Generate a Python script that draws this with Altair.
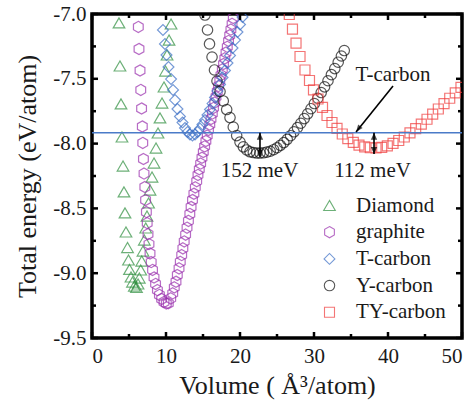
import altair as alt
import pandas as pd

# ---------------- data ----------------
dia_v = [3.65, 3.78, 3.92, 4.05, 4.19, 4.32, 4.46, 4.59, 4.80, 4.93, 5.07, 5.27, 5.47, 5.72, 6.01,
         6.22, 6.39, 6.58, 6.72, 6.89, 7.07, 7.26, 7.43, 7.64, 7.84, 8.11, 8.38, 8.65, 8.92, 9.19,
         9.46, 9.73, 9.93, 10.14, 10.41, 10.68]
dia_e = [-7.069, -7.401, -7.694, -7.949, -8.173, -8.373, -8.535, -8.682, -8.802, -8.898, -8.971,
         -9.029, -9.068, -9.099, -9.110,
         -9.083, -9.037, -8.975, -8.906, -8.829, -8.744, -8.651, -8.559, -8.458, -8.358, -8.258,
         -8.150, -8.034, -7.918, -7.802, -7.687, -7.563, -7.440, -7.316, -7.201, -7.077]

gra_v = [6.26, 6.35, 6.49, 6.59, 6.70, 6.80, 6.86, 6.95, 7.03, 7.14, 7.24, 7.35, 7.46, 7.57, 7.70,
         7.84, 8.00, 8.18, 8.38, 8.59, 8.84, 9.11, 9.41, 9.73, 10.04,
         10.31, 10.64, 10.91, 11.12, 11.35, 11.53, 11.76, 11.93, 12.12, 12.28, 12.46, 12.65, 12.84,
         13.03, 13.22, 13.39, 13.58, 13.77, 13.96, 14.15, 14.32, 14.50, 14.68, 14.86, 15.04, 15.22,
         15.39, 15.57, 15.74, 15.92, 16.08, 16.26, 16.42, 16.59, 16.76, 16.93, 17.09, 17.27, 17.43,
         17.61, 17.77, 17.95, 18.11, 18.28, 18.45, 18.61, 18.77, 18.93, 19.09]
gra_e = [-7.100, -7.270, -7.436, -7.586, -7.729, -7.868, -7.995, -8.119, -8.231, -8.335, -8.435,
         -8.528, -8.613, -8.698, -8.775, -8.848, -8.914, -8.975, -9.033, -9.083, -9.130, -9.168,
         -9.199, -9.222, -9.234,
         -9.232, -9.194, -9.155, -9.109, -9.066, -9.014, -8.963, -8.912, -8.860, -8.808, -8.755,
         -8.702, -8.649, -8.596, -8.543, -8.489, -8.435, -8.387, -8.338, -8.290, -8.242, -8.198,
         -8.154, -8.109, -8.065, -8.022, -7.980, -7.938, -7.895, -7.853, -7.810, -7.768, -7.725,
         -7.683, -7.640, -7.598, -7.556, -7.513, -7.471, -7.428, -7.386, -7.342, -7.297, -7.253,
         -7.208, -7.164, -7.120, -7.076, -7.031]

tc_v = [9.59, 9.86, 10.07, 10.34, 10.68, 10.95, 11.22, 11.55, 11.89, 12.23, 12.57, 12.91, 13.24,
        13.58, 13.92, 14.26, 14.59, 14.93, 15.27, 15.61, 15.95, 16.28, 16.62, 16.96, 17.30, 17.64,
        17.97, 18.31, 18.65, 18.99, 19.32, 19.66, 20.00, 20.34]
tc_e = [-7.123, -7.231, -7.316, -7.409, -7.502, -7.586, -7.664, -7.733, -7.791, -7.837, -7.880,
        -7.910, -7.930, -7.938, -7.930, -7.910, -7.884, -7.853, -7.818, -7.779, -7.737, -7.691,
        -7.644, -7.594, -7.544, -7.490, -7.436, -7.378, -7.320, -7.262, -7.201, -7.139, -7.081,
        -7.023]

yc_v = [15.27, 15.61, 15.88, 16.22, 16.55, 16.89, 17.30, 17.74, 18.20, 18.65, 19.09, 19.55, 20.00,
        20.45, 20.91, 21.35, 21.80, 22.26, 22.70,
        23.16, 23.62, 24.08, 24.54, 25.00, 25.46, 25.92, 26.38, 26.84, 27.30, 27.76, 28.22, 28.68,
        29.14, 29.59, 30.05, 30.51, 30.97, 31.43, 31.89, 32.35, 32.81, 33.27, 33.70, 34.09]
yc_e = [-7.008, -7.123, -7.231, -7.332, -7.432, -7.517, -7.598, -7.671, -7.737, -7.799, -7.872,
        -7.938, -7.988, -8.025, -8.049, -8.063, -8.069, -8.073, -8.073,
        -8.071, -8.066, -8.059, -8.047, -8.032, -8.013, -7.992, -7.967, -7.939, -7.909, -7.877,
        -7.843, -7.807, -7.770, -7.731, -7.691, -7.650, -7.606, -7.562, -7.515, -7.468, -7.421,
        -7.372, -7.324, -7.282]

ty_v = [26.66, 27.09, 27.57, 28.11, 28.78, 29.39, 29.93, 30.54, 31.15, 31.76, 32.43, 33.11, 33.82,
        34.57, 35.31, 36.08, 36.85, 37.61, 38.38, 39.15, 39.91, 40.68, 41.45, 42.20, 42.97, 43.74,
        44.50, 45.27, 46.04, 46.80, 47.57, 48.34, 49.09, 49.86]
ty_e = [-7.004, -7.116, -7.224, -7.328, -7.432, -7.513, -7.586, -7.656, -7.721, -7.783, -7.837,
        -7.883, -7.926, -7.961, -7.990, -8.011, -8.025, -8.032, -8.034, -8.029, -8.017, -7.999,
        -7.976, -7.949, -7.918, -7.885, -7.849, -7.812, -7.773, -7.733, -7.692, -7.650, -7.608,
        -7.566]

series_names = ["Diamond", "graphite", "T-carbon", "Y-carbon", "TY-carbon"]
series_colors = ["#2f8f3f", "#9a2fae", "#3b6fc6", "#111111", "#f03c3c"]
HEX = "M0,-1 L0.866,-0.5 L0.866,0.5 L0,1 L-0.866,0.5 L-0.866,-0.5 Z"
series_shapes = ["triangle-up", HEX, "diamond", "circle", "square"]
series_sizes = [135, 100, 105, 85, 85]

t_carbon_level = -7.916

# vertical double arrows (meV gaps)
gap_v = [22.70, 38.11]
gap_bottom = [-8.100, -8.080]
gap_labels = ["152 meV", "112 meV"]
gap_label_v = [22.64, 37.91]
gap_label_e = [-8.255, -8.255]

# T-carbon pointer
ptr_start = (40.68, -7.556)
ptr_end = (35.68, -7.910)
ptr_label = "T-carbon"
ptr_label_pos = (40.68, -7.517)

x_major = [0, 10, 20, 30, 40, 50]
x_minor = [5, 15, 25, 35, 45]
y_major = [-7.0, -7.5, -8.0, -8.5, -9.0, -9.5]
y_minor = [-7.25, -7.75, -8.25, -8.75, -9.25]

# ---------------- build tables ----------------
rows = []
for name, vs, es in [("Diamond", dia_v, dia_e), ("graphite", gra_v, gra_e),
                     ("T-carbon", tc_v, tc_e), ("Y-carbon", yc_v, yc_e),
                     ("TY-carbon", ty_v, ty_e)]:
    for v, e in zip(vs, es):
        rows.append({"V": v, "E": e, "series": name, "kind": name})
df = pd.DataFrame(rows)

W, H = 370, 324
FONT = "Liberation Serif"
TXT = "#1a1a1a"

xs = alt.Scale(domain=[0, 50], nice=False, zero=False)
ys = alt.Scale(domain=[-9.5, -7.0], nice=False, zero=False)

legend = alt.Legend(orient="none", legendX=227, legendY=181, padding=0,
                    labelFont=FONT, labelFontSize=21, labelColor=TXT,
                    labelOffset=16, rowPadding=4.7, symbolSize=75,
                    symbolStrokeWidth=1.1, labelLimit=300)

points = alt.Chart(df).mark_point(filled=False, strokeWidth=1.2, clip=True).encode(
    x=alt.X("V:Q", scale=xs,
            axis=alt.Axis(values=x_major, format="d", ticks=False, tickSize=0, domain=False,
                          grid=False, labelFont=FONT, labelFontSize=21, labelColor=TXT,
                          labelPadding=24, labelBaseline="alphabetic",
                          title="Volume ( Å³/atom)", titleFont=FONT, titleFontSize=26,
                          titleFontWeight="normal", titleColor=TXT, titleX=185, titleY=55,
                          titleBaseline="alphabetic", titleAlign="center")),
    y=alt.Y("E:Q", scale=ys,
            axis=alt.Axis(values=y_major, ticks=False, tickSize=0, domain=False, grid=False,
                          labelExpr="(datum.value < 0 ? '-' : '') + format(abs(datum.value), '.1f')",
                          labelFont=FONT, labelFontSize=21, labelColor=TXT, labelPadding=6,
                          title="Total energy (eV/atom)", titleFont=FONT, titleFontSize=26,
                          titleFontWeight="normal", titleColor=TXT, titleX=-57, titleY=162,
                          titleAngle=270, titleBaseline="alphabetic", titleAlign="center")),
    color=alt.Color("series:N", title=None,
                    scale=alt.Scale(domain=series_names, range=series_colors), legend=legend),
    shape=alt.Shape("series:N", title=None,
                    scale=alt.Scale(domain=series_names, range=series_shapes), legend=legend),
    size=alt.Size("kind:N", scale=alt.Scale(domain=series_names, range=series_sizes),
                  legend=None),
)

hline = alt.Chart(pd.DataFrame({"E": [t_carbon_level]})).mark_rule(
    color="#4a7bc8", strokeWidth=1.6).encode(y=alt.Y("E:Q", scale=ys))

gap_df = pd.DataFrame({"V": gap_v, "top": [t_carbon_level] * 2, "bottom": gap_bottom})
gap_rules = alt.Chart(gap_df).mark_rule(color="black", strokeWidth=1.6).encode(
    x=alt.X("V:Q", scale=xs), y=alt.Y("top:Q", scale=ys), y2="bottom:Q")
UP = "M0,0 L-0.45,1 L0.45,1 Z"
DOWN = "M0,0 L-0.45,-1 L0.45,-1 Z"
heads_up = alt.Chart(gap_df).mark_point(shape=UP, filled=True, color="black", size=200,
                                        strokeWidth=0).encode(
    x=alt.X("V:Q", scale=xs), y=alt.Y("top:Q", scale=ys))
heads_down = alt.Chart(gap_df).mark_point(shape=DOWN, filled=True, color="black", size=200,
                                          strokeWidth=0).encode(
    x=alt.X("V:Q", scale=xs), y=alt.Y("bottom:Q", scale=ys))

gap_text = alt.Chart(pd.DataFrame({"V": gap_label_v, "E": gap_label_e, "t": gap_labels})).mark_text(
    font=FONT, fontSize=21, color=TXT, align="center", baseline="alphabetic").encode(
    x=alt.X("V:Q", scale=xs), y=alt.Y("E:Q", scale=ys), text="t:N")

ptr_df = pd.DataFrame({"V": [ptr_start[0]], "E": [ptr_start[1]],
                       "V2": [ptr_end[0]], "E2": [ptr_end[1]]})
ptr_rule = alt.Chart(ptr_df).mark_rule(color="black", strokeWidth=1.6).encode(
    x=alt.X("V:Q", scale=xs), y=alt.Y("E:Q", scale=ys), x2="V2:Q", y2="E2:Q")
ptr_head = alt.Chart(ptr_df).mark_point(shape="M0,0 L-0.4,1 L0.4,1 Z", filled=True,
                                        color="black", size=200, angle=218,
                                        strokeWidth=0).encode(
    x=alt.X("V2:Q", scale=xs), y=alt.Y("E2:Q", scale=ys))
ptr_text = alt.Chart(pd.DataFrame({"V": [ptr_label_pos[0]], "E": [ptr_label_pos[1]],
                                   "t": [ptr_label]})).mark_text(
    font=FONT, fontSize=21, color=TXT, align="center", baseline="alphabetic").encode(
    x=alt.X("V:Q", scale=xs), y=alt.Y("E:Q", scale=ys), text="t:N")

# inward ticks on all four sides
def xticks(vals, length):
    d = pd.DataFrame({"V": vals})
    bot = alt.Chart(d).mark_rule(color="black", strokeWidth=2.5).encode(
        x=alt.X("V:Q", scale=xs), y=alt.value(H), y2=alt.value(H - length))
    top = alt.Chart(d).mark_rule(color="black", strokeWidth=2.5).encode(
        x=alt.X("V:Q", scale=xs), y=alt.value(0), y2=alt.value(length))
    return [bot, top]

def yticks(vals, length):
    d = pd.DataFrame({"E": vals})
    left = alt.Chart(d).mark_rule(color="black", strokeWidth=2.5).encode(
        y=alt.Y("E:Q", scale=ys), x=alt.value(0), x2=alt.value(length))
    right = alt.Chart(d).mark_rule(color="black", strokeWidth=2.5).encode(
        y=alt.Y("E:Q", scale=ys), x=alt.value(W), x2=alt.value(W - length))
    return [left, right]

tick_layers = xticks(x_major, 6) + xticks(x_minor, 4) + yticks(y_major, 6) + yticks(y_minor, 4)

chart = alt.layer(
    points, hline, gap_rules, heads_up, heads_down, gap_text, ptr_rule, ptr_head, ptr_text,
    *tick_layers
).properties(
    width=W, height=H,
    autosize=alt.AutoSizeParams(type="none"),
    padding={"left": 92, "top": 14, "right": 14, "bottom": 67},
    background="white",
).configure(
    font=FONT
).configure_axis(
    labelFont=FONT, titleFont=FONT
).configure_legend(
    labelFont=FONT, labelFontSize=21
).configure_view(
    stroke="black", strokeWidth=3.5
)

chart.save("out.html", embed_options={"renderer": "svg", "actions": False})
